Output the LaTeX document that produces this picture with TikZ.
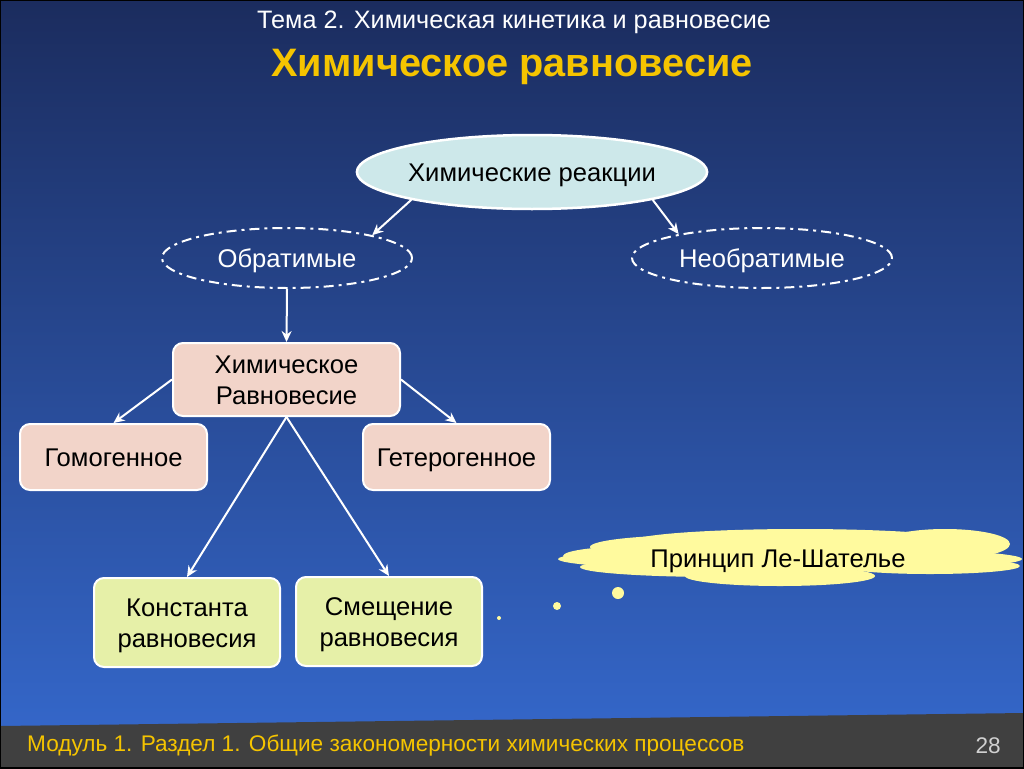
\documentclass[tikz,border=0pt]{standalone}
\usepackage{fontspec}
\setmainfont{Liberation Sans}
\usetikzlibrary{arrows.meta,shapes.geometric}
\definecolor{bgtop}{HTML}{1B2C5E}
\definecolor{bgbot}{HTML}{3466C8}
\definecolor{footgray}{HTML}{404040}
\definecolor{titleyellow}{HTML}{F5C400}
\definecolor{ellfill}{HTML}{CDE8EA}
\definecolor{pinkfill}{HTML}{F2D4C9}
\definecolor{greenfill}{HTML}{E6F0A8}
\definecolor{cloudfill}{HTML}{FFFA9E}
\definecolor{numgray}{HTML}{D0D0D0}
\newcommand{\capstrut}{\rule{0pt}{18.3pt}}
\tikzset{
  nodetext/.style={font=\fontsize{25.6}{31}\selectfont, align=center, text=black, text depth=0pt},
  solidell/.style={ellipse, draw=white, line width=2.5pt, fill=ellfill, inner sep=0pt, nodetext},
  dashell/.style={ellipse, draw=white, line width=2pt, dash pattern=on 10pt off 5pt on 3pt off 5pt, inner sep=0pt, font=\fontsize{25.6}{31}\selectfont, text=white, text depth=0pt},
  pinkbox/.style={rectangle, rounded corners=10pt, draw=white, line width=2pt, fill=pinkfill, inner sep=0pt, nodetext},
  greenbox/.style={rectangle, rounded corners=10pt, draw=white, line width=2pt, fill=greenfill, inner sep=0pt, nodetext},
  conn/.style={draw=white, line width=2pt, -{Stealth[length=11pt,width=10pt]}},
  cloudpart/.style={fill=cloudfill, draw=none},
}
\begin{document}
\begin{tikzpicture}[x=1pt,y=-1pt]
\useasboundingbox (0,0) rectangle (1024,768);
% background
\shade[top color=bgtop, bottom color=bgbot] (0,0) rectangle (1024,726);
\fill[footgray] (0,726) -- (1024,713) -- (1024,768) -- (0,768) -- cycle;
\draw[black, line width=2pt] (0,0) rectangle (1024,768);
% titles
\node[text=white, font=\fontsize{25.2}{30}\selectfont] (t1) at (514,22) {Тема 2. Химическая кинетика и равновесие};
\node[text=titleyellow, font=\bfseries\fontsize{39.7}{44}\selectfont] (t2) at (512,67) {Химическое равновесие};
% nodes
\node[solidell, minimum width=316pt, minimum height=74pt] (hr) at (532,172) {\capstrut Химические реакции};
\node[dashell, minimum width=250pt, minimum height=60pt] (ob) at (287,258) {\capstrut Обратимые};
\node[dashell, minimum width=260pt, minimum height=60pt] (nb) at (762,258) {\capstrut Необратимые};
\node[pinkbox, minimum width=227pt, minimum height=73pt] (he) at (286.5,379.5) {\capstrut Химическое\\\capstrut Равновесие};
\node[pinkbox, minimum width=187pt, minimum height=66pt] (gom) at (113.5,457) {\capstrut Гомогенное};
\node[pinkbox, minimum width=187pt, minimum height=66pt] (get) at (456.5,457) {\capstrut Гетерогенное};
\node[greenbox, minimum width=186pt, minimum height=89pt] (kon) at (187,622.5) {\capstrut Константа\\\capstrut равновесия};
\node[greenbox, minimum width=186pt, minimum height=89pt] (sm) at (389,621.5) {\capstrut Смещение\\\capstrut равновесия};
% connectors
\draw[conn] (hr.193) -- (ob.15);
\draw[conn] (hr.-13) -- (nb.164);
\draw[conn] (ob.south) -- (he.north);
\draw[conn] (he.west) -- (gom.north);
\draw[conn] (he.east) -- (get.north);
\draw[conn] (he.south) -- (kon.north);
\draw[conn] (he.south) -- (sm.north);
% cloud
\fill[cloudpart] (800,542) ellipse [x radius=170, y radius=13];
\fill[cloudpart] (945,544) ellipse [x radius=65, y radius=15];
\fill[cloudpart] (700,547) ellipse [x radius=110, y radius=12];
\fill[cloudpart] (640,556) ellipse [x radius=77, y radius=10];
\fill[cloudpart] (790,559) ellipse [x radius=232, y radius=12];
\fill[cloudpart] (720,567) ellipse [x radius=140, y radius=10];
\fill[cloudpart] (930,566) ellipse [x radius=90, y radius=8];
\fill[cloudpart] (780,576) ellipse [x radius=95, y radius=10];
\node[nodetext, inner sep=0pt] (cl) at (778,558) {\capstrut Принцип Ле-Шателье};
\fill[cloudfill] (618,593) circle [radius=6];
\fill[cloudfill] (557,606) circle [radius=4];
\fill[cloudfill] (499,618) circle [radius=2];
% footer
\node[anchor=west, text=titleyellow, font=\fontsize{22.6}{26}\selectfont, inner sep=0pt] (ft) at (27,746) {Модуль 1. Раздел 1. Общие закономерности химических процессов};
\node[anchor=east, text=numgray, font=\fontsize{22.6}{26}\selectfont, inner sep=0pt] (pg) at (1001,746) {28};
\end{tikzpicture}
\end{document}
